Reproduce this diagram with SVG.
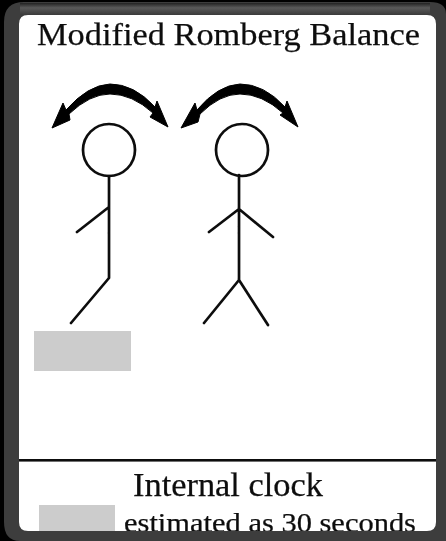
<svg xmlns="http://www.w3.org/2000/svg" width="446" height="541" viewBox="0 0 446 541">
<style>
.t{font-family:"Liberation Serif","Times New Roman",serif;fill:#111;stroke:#111;stroke-width:.25}
.s{fill:none;stroke:#111;stroke-width:2.7;stroke-linecap:round;stroke-linejoin:round}
.arc{fill:#000;stroke:#000;stroke-width:1;stroke-linejoin:round}
.g{fill:#ccc}
</style>
<defs>
<linearGradient id="top" x1="0" y1="0" x2="0" y2="1"><stop offset="0" stop-color="#222"/><stop offset="0.4" stop-color="#5a5a5a"/><stop offset="1" stop-color="#3a3a3a"/></linearGradient>
<filter id="soft" x="0" y="0" width="1" height="1"><feGaussianBlur stdDeviation="0.45"/></filter>
</defs>
<rect width="446" height="541" fill="#fff"/>
<g filter="url(#soft)">
<g id="title"><text class="t" x="37" y="45" font-size="32.5" textLength="383" lengthAdjust="spacingAndGlyphs">Modified Romberg Balance</text></g>
<g id="person-left">
<circle class="s" cx="109" cy="150" r="26"/>
<path class="s" d="M109 176V278L71 323M109 207L77 232"/>
</g>
<g id="person-right">
<circle class="s" cx="242" cy="150" r="26"/>
<path class="s" d="M239 175V280L204 323M239 280L268 325M239 209L209 232M239 209L273 237"/>
</g>
<g id="block-left"><rect class="g" x="34" y="331" width="97" height="40"/></g>
<g id="connectors">
<path class="arc" d="M52 128L63 103L66 110Q88 85 110 84Q134 84 155 107L157 101L168 127L150 117L153 113Q132 94 110 94Q90 94 69 114L70 120Z"/>
<path class="arc" d="M181 128L195 103L197 110Q218 85 240 84Q264 84 285 107L287 101L298 127L280 115L283 113Q262 94 240 94Q220 94 200 114L198 122Z"/>
</g>
<g id="divider"><rect x="19" y="459" width="417" height="2.6" fill="#111"/></g>
<g id="legend">
<text class="t" x="133" y="496" font-size="33" textLength="190" lengthAdjust="spacingAndGlyphs">Internal clock</text>
<rect class="g" x="39" y="505" width="76" height="30"/>
<text class="t" x="124" y="532" font-size="27" textLength="292" lengthAdjust="spacingAndGlyphs">estimated as 30 seconds</text>
</g>
</g>
<g id="frame">
<path fill="#3d3d3d" fill-rule="evenodd" d="M0 0H446V541H0ZM28 15Q19 15 19 24V522Q19 531 28 531H427Q436 531 436 522V24Q436 15 427 15Z"/>
<rect x="20" y="3" width="410" height="12" fill="url(#top)"/>
<path fill="#000" fill-rule="evenodd" d="M0 0H446V541H0ZM24 2Q4 2 4 22V522Q4 541 20 541H446V14Q446 2 430 2Z"/>
</g>
</svg>
